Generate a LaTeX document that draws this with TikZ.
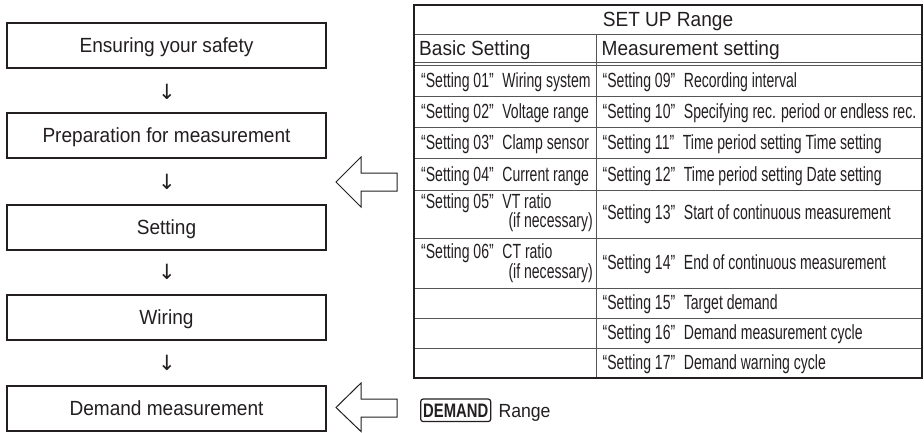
\documentclass[tikz,border=0pt]{standalone}
\usepackage{fontspec}
\setmainfont{Liberation Sans}[FakeStretch=0.93]
\newfontfamily\tabfont{Liberation Sans}[FakeStretch=0.685]
\newfontfamily\keyfont{Liberation Sans}[FakeStretch=0.76]
\newfontfamily\arrowfont{DejaVu Sans}
\definecolor{ink}{HTML}{231F20}
\definecolor{rule}{HTML}{555555}
\tikzset{
  stepbox/.style={draw=ink, line width=2pt, minimum width=319pt, minimum height=45pt,
    inner sep=0pt, text=ink, text height=14.7pt, text depth=0pt,
    font=\fontsize{20.5}{22}\selectfont},
  downarr/.style={inner sep=0pt, text=ink, font=\arrowfont\fontsize{21}{22}\selectfont},
  headtxt/.style={inner sep=0pt, text=ink, text height=14.7pt, text depth=0pt,
    font=\fontsize{20.5}{22}\selectfont},
  cell/.style={anchor=west, inner sep=0pt, text=ink, text height=14.7pt, text depth=0pt,
    font=\tabfont\fontsize{20.5}{21}\selectfont},
  cellr/.style={cell, anchor=east},
  gridline/.style={draw=rule, line width=1pt},
  framebox/.style={draw=ink, line width=2pt},
  hollow/.style={draw=ink, line width=1pt, fill=white, line join=miter},
}
\newcommand{\gap}{\hspace{0.42em}}
\begin{document}
\begin{tikzpicture}[x=1pt,y=-1pt]
\useasboundingbox (0,0) rectangle (924,432);

% flow boxes
\node[stepbox] (b1) at (166.5,45.5) {Ensuring your safety};
\node[stepbox] (b2) at (166.5,135.5) {Preparation for measurement};
\node[stepbox] (b3) at (166.5,227) {Setting};
\node[stepbox] (b4) at (166.5,317) {Wiring};
\node[stepbox] (b5) at (166.5,408.5) {Demand measurement};

\node[downarr] (a1) at (167,92) {↓};
\node[downarr] (a2) at (167,182) {↓};
\node[downarr] (a3) at (167,272) {↓};
\node[downarr] (a4) at (167,363) {↓};

% hollow arrows
\draw[hollow] (336,182) -- (361,157) -- (361,173) -- (397,173) -- (397,191)
  -- (361,191) -- (361,207) -- cycle;
\draw[hollow] (336,407.5) -- (361,383) -- (361,399) -- (397,399) -- (397,417)
  -- (361,417) -- (361,431.5) -- cycle;

% table grid
\draw[gridline] (414,34) -- (922,34);
\draw[gridline] (414,62.5) -- (922,62.5);
\draw[gridline] (414,65) -- (922,65);
\foreach \yy in {96,127,158,190,238,288,318,348}
  \draw[gridline] (414,\yy) -- (922,\yy);
\draw[gridline] (596,34) -- (596,378);
\draw[framebox] (414,5) rectangle (922,378);

% table texts
\node[headtxt] (title) at (668,19.5) {SET UP Range};
\node[headtxt, anchor=west] (hb) at (419,48.5) {Basic Setting};
\node[headtxt, anchor=west] (hm) at (601.5,48.5) {Measurement setting};

\node[cell] (s01) at (421,80) {“Setting 01”\gap Wiring system};
\node[cell] (s02) at (421,111.5) {“Setting 02”\gap Voltage range};
\node[cell] (s03) at (421,142.5) {“Setting 03”\gap Clamp sensor};
\node[cell] (s04) at (421,174) {“Setting 04”\gap Current range};
\node[cell] (s05) at (421,201.5) {“Setting 05”\gap VT ratio};
\node[cellr] (s05b) at (593,220) {(if necessary)};
\node[cell] (s06) at (421,251.5) {“Setting 06”\gap CT ratio};
\node[cellr] (s06b) at (593,271) {(if necessary)};

\node[cell] (s09) at (602.5,80) {“Setting 09”\gap Recording interval};
\node[cell] (s10) at (602.5,111.5) {“Setting 10”\gap Specifying rec. period or endless rec.};
\node[cell] (s11) at (602.5,142.5) {“Setting 11”\gap Time period setting Time setting};
\node[cell] (s12) at (602.5,174) {“Setting 12”\gap Time period setting Date setting};
\node[cell] (s13) at (602.5,212) {“Setting 13”\gap Start of continuous measurement};
\node[cell] (s14) at (602.5,262) {“Setting 14”\gap End of continuous measurement};
\node[cell] (s15) at (602.5,302) {“Setting 15”\gap Target demand};
\node[cell] (s16) at (602.5,332) {“Setting 16”\gap Demand measurement cycle};
\node[cell] (s17) at (602.5,362) {“Setting 17”\gap Demand warning cycle};

% DEMAND key
\node[draw=ink, line width=1.2pt, rounded corners=2.5pt, minimum width=70pt, minimum height=22.5pt,
  inner sep=0pt, text=ink, text height=14pt, text depth=0pt,
  font=\keyfont\bfseries\fontsize{19.5}{20}\selectfont] (key) at (455.7,410.3) {DEMAND};
\node[headtxt, anchor=west, text height=13.5pt, font=\fontsize{19}{20}\selectfont]
  (rng) at ([xshift=7pt]key.east) {Range};
\end{tikzpicture}
\end{document}
